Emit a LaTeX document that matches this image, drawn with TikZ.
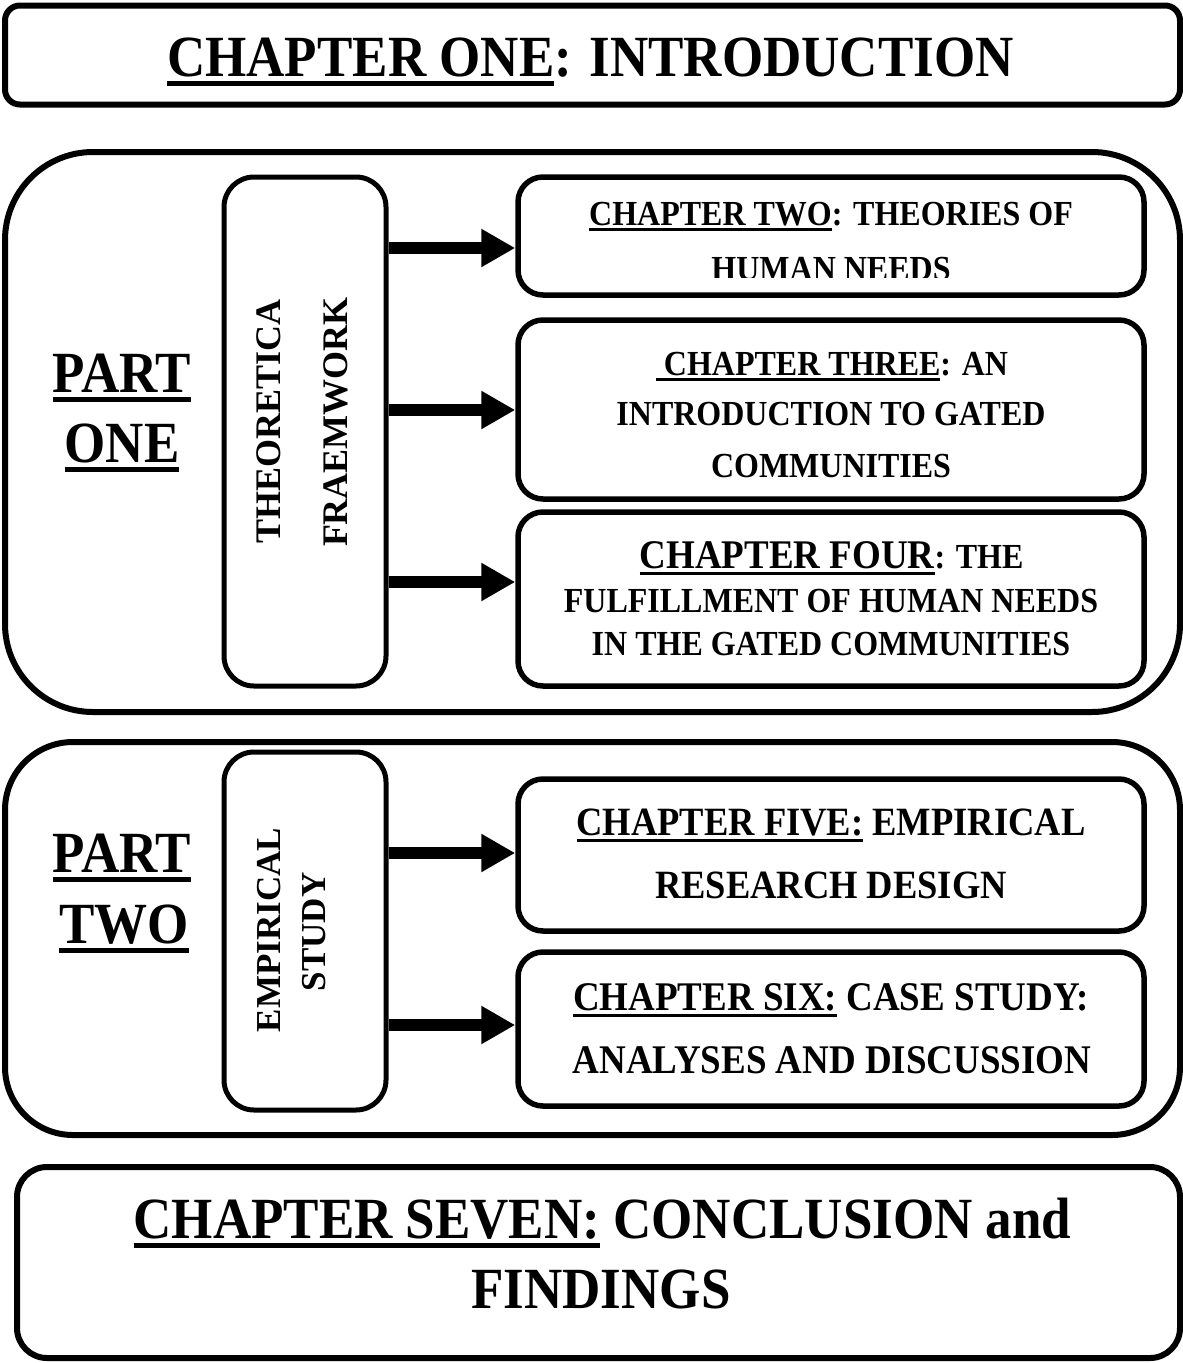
\documentclass[tikz,border=0pt]{standalone}
\usepackage{fontspec}
\setmainfont{Liberation Serif}
\usepackage{graphicx}
\usetikzlibrary{arrows.meta}

% font size helper, underline with a heavy rule, slight vertical stretch of text
\newcommand\fsz[1]{\fontsize{#1}{#1}\selectfont}
\newcommand\chul[1]{\setbox0=\hbox{#1}\leavevmode\rlap{\rule[-0.17em]{\wd0}{0.08em}}\box0\relax}
\newcommand\vst[1]{\scalebox{1}[1.1]{#1}}

\tikzset{
  outerbox/.style={draw, line width=6pt, rounded corners=#1, inner sep=0pt},
  chapbox/.style={draw, line width=5.5pt, rounded corners=25pt, inner sep=0pt,
                  minimum width=626pt},
  sidebox/.style={draw, line width=5pt, rounded corners=30pt, inner sep=0pt,
                  minimum width=162pt},
  txt/.style={anchor=base, inner sep=0pt, font=\bfseries},
  vtxt/.style={anchor=base, inner sep=0pt, font=\bfseries, rotate=90},
  arr/.style={line width=12pt, -{Triangle[length=34pt,width=36pt]}},
}

\begin{document}
\begin{tikzpicture}[x=1pt, y=-1pt]
\useasboundingbox (0,0) rectangle (1183,1363);

% ---- boxes ----
\node[outerbox=15pt, minimum width=1175pt, minimum height=99pt] (intro) at (592.5,55) {};
\node[outerbox=88pt, minimum width=1175pt, minimum height=560pt] (partone) at (592.5,432) {};
\node[sidebox, minimum height=509pt] (theory) at (305,431.5) {};
\node[chapbox, minimum height=118pt] (ch2) at (831,236) {};
\node[chapbox, minimum height=179pt] (ch3) at (831,409.5) {};
\node[chapbox, minimum height=174pt] (ch4) at (831,599) {};

\node[outerbox=68pt, minimum width=1175pt, minimum height=393pt] (parttwo) at (592.5,938.5) {};
\node[sidebox, minimum height=358pt] (empir) at (305,931) {};
\node[chapbox, minimum height=152pt] (ch5) at (831,855) {};
\node[chapbox, minimum height=154pt] (ch6) at (831,1029) {};

\node[outerbox=30pt, minimum width=1163pt, minimum height=191pt] (concl) at (598.5,1262.5) {};

% ---- arrows ----
\coordinate (r1) at (0,248);
\coordinate (r2) at (0,410);
\coordinate (r3) at (0,582);
\coordinate (r4) at (0,853);
\coordinate (r5) at (0,1025);
\draw[arr] (theory.east |- r1) -- (ch2.west |- r1);
\draw[arr] (theory.east |- r2) -- (ch3.west |- r2);
\draw[arr] (theory.east |- r3) -- (ch4.west |- r3);
\draw[arr] (empir.east |- r4) -- (ch5.west |- r4);
\draw[arr] (empir.east |- r5) -- (ch6.west |- r5);

% ---- texts ----
\node[txt] (introt) at (590.5,76) {\vst{\fsz{53}\chul{CHAPTER ONE}: INTRODUCTION}};

\node[txt] (p1a) at (122,392) {\vst{\fsz{53}\chul{PART}}};
\node[txt] (p1b) at (122,462) {\vst{\fsz{53}\chul{ONE}}};
\node[txt] (p2a) at (122,872) {\vst{\fsz{53}\chul{PART}}};
\node[txt] (p2b) at (124,943) {\vst{\fsz{53}\chul{TWO}}};

\node[vtxt] (th1) at (280,421.5) {\fsz{36}THEORETICA};
\node[vtxt] (th2) at (347,422) {\fsz{36}FRAEMWORK};
\node[vtxt] (em1) at (280,930) {\fsz{35}EMPIRICAL};
\node[vtxt] (em2) at (325,932) {\fsz{35}STUDY};

\node[txt] (ch2a) at (831,225) {\vst{\fsz{32}\chul{CHAPTER TWO}: THEORIES OF}};
\begin{scope}
  \clip (520,250) rectangle (1140,277);
  \node[txt] (ch2b) at (831,280) {\vst{\fsz{32}HUMAN NEEDS}};
\end{scope}

\node[txt] (ch3a) at (832,375) {\vst{\fsz{32}\chul{\ CHAPTER THREE}: AN}};
\node[txt] (ch3b) at (831,425) {\vst{\fsz{32}INTRODUCTION TO GATED}};
\begin{scope}
  \clip (520,445) rectangle (1140,479);
  \node[txt] (ch3c) at (831,477) {\vst{\fsz{32}COMMUNITIES}};
\end{scope}

\node[txt] (ch4a) at (831.5,568) {\vst{\fsz{37}\chul{CHAPTER FOUR}\fsz{32}: THE}};
\node[txt] (ch4b) at (831,612) {\vst{\fsz{32}FULFILLMENT OF HUMAN NEEDS}};
\node[txt] (ch4c) at (831,655) {\vst{\fsz{32}IN THE GATED COMMUNITIES}};

\node[txt] (ch5a) at (831,835) {\vst{\fsz{36.5}\chul{CHAPTER FIVE:} EMPIRICAL}};
\node[txt] (ch5b) at (831,898) {\vst{\fsz{36.5}RESEARCH DESIGN}};

\node[txt] (ch6a) at (831,1010) {\vst{\fsz{37}\chul{CHAPTER SIX:} CASE STUDY:}};
\node[txt] (ch6b) at (832,1073) {\vst{\fsz{37}ANALYSES AND DISCUSSION}};

\node[txt] (ch7a) at (602.5,1238) {\vst{\fsz{53}\chul{CHAPTER SEVEN:} CONCLUSION and}};
\node[txt] (ch7b) at (601,1308) {\vst{\fsz{53}FINDINGS}};
\end{tikzpicture}
\end{document}
